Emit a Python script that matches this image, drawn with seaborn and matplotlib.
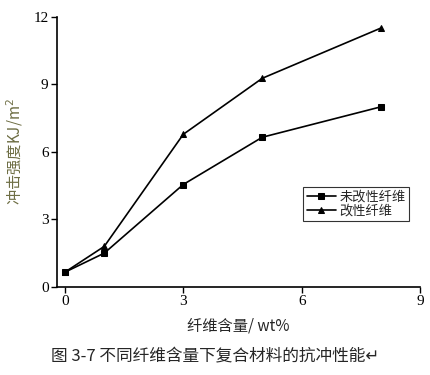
import numpy as np
import pandas as pd
import matplotlib
matplotlib.use("Agg")
import matplotlib.pyplot as plt
import seaborn as sns

fiber = [0, 1, 3, 5, 8]
unmodified = [0.65, 1.5, 4.55, 6.65, 8.0]
modified = [0.65, 1.8, 6.78, 9.27, 11.5]
series_names = ["未改性纤维", "改性纤维"]
xticks = [0, 3, 6, 9]
yticks = [0, 3, 6, 9, 12]

df = pd.DataFrame({
    "x": fiber * 2,
    "y": unmodified + modified,
    "s": [series_names[0]] * len(fiber) + [series_names[1]] * len(fiber),
})

sns.set_style("ticks")
cjk = ["Noto Sans CJK SC", "DejaVu Sans"]
serif = ["Liberation Serif", "DejaVu Serif"]
plt.rcParams["font.family"] = cjk

fig = plt.figure(figsize=(4.31, 3.75), dpi=100)
ax = fig.add_axes([0.132, 0.235, 0.843, 0.72])

sns.lineplot(data=df, x="x", y="y", hue="s", style="s",
             palette=["black", "black"], markers=["s", "^"], dashes=False,
             markersize=5, linewidth=1.2, markeredgecolor="black", ax=ax)

ax.set_xlim(-0.2, 9)
ax.set_ylim(0, 12)
ax.set_xticks(xticks)
ax.set_yticks(yticks)
for lab in ax.get_xticklabels() + ax.get_yticklabels():
    lab.set_family(serif)
    lab.set_fontsize(11)
ax.tick_params(direction="out", length=4, width=1, colors="black", pad=2)
sns.despine(ax=ax)
for sp in ["left", "bottom"]:
    ax.spines[sp].set_linewidth(1.2)
    ax.spines[sp].set_color("black")

ax.set_xlabel("纤维含量/ wt%", fontsize=11, labelpad=7)
ax.set_ylabel("冲击强度KJ/m$^2$", fontsize=11, color="#6e6e44", labelpad=6)

leg = ax.legend(loc="upper left", bbox_to_anchor=(0.66, 0.395), fontsize=9.5,
                frameon=True, fancybox=False, edgecolor="black",
                handlelength=2.2, borderpad=0.25, labelspacing=0.1,
                handletextpad=0.3, title=None, markerscale=0.8)
leg.get_frame().set_linewidth(0.8)

fig.text(0.5, 0.035, "图 3-7 不同纤维含量下复合材料的抗冲性能↵",
         ha="center", fontsize=12, family=cjk)

fig.savefig("out.png", dpi=100)
